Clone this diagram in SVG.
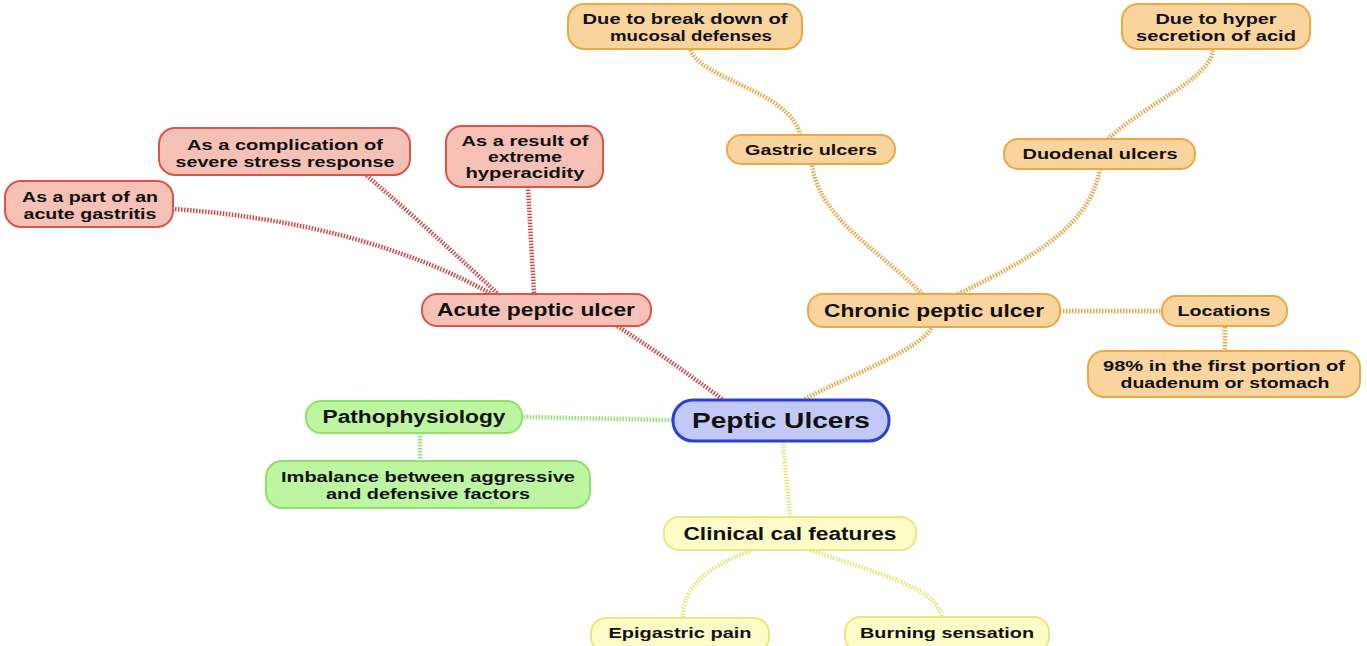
<svg xmlns="http://www.w3.org/2000/svg" width="1367" height="646" viewBox="0 0 1367 646">
<style>
text{font-family:"Liberation Sans",Arial,sans-serif;font-weight:bold;fill:#111;text-anchor:middle}
.s{font-size:15px}.m{font-size:17.5px}.l{font-size:22px}
.red rect{fill:#f5c1b7;stroke:#dc5448;stroke-width:2}
.org rect{fill:#f9d49c;stroke:#eaa946;stroke-width:2}
.grn rect{fill:#bdf5a0;stroke:#90e070;stroke-width:2}
.yel rect{fill:#fdfcc6;stroke:#e9e87e;stroke-width:2}
.blu rect{fill:#c3c9f6;stroke:#2b3fd6;stroke-width:3}
.c{fill:none;stroke-width:4.5;stroke-dasharray:1.5 1.5}
.cr{stroke:#d24a44}.co{stroke:#e8a84a}.cg{stroke:#95e374}.cy{stroke:#e6e67a}
</style>
<g id="connectors">
<path class="c cr" d="M722 399 Q670 360 617 326"/>
<path class="c co" d="M805 399 C850 375 920 350 932 327"/>
<path class="c cr" d="M490 293 Q360 222 173 209"/>
<path class="c cr" d="M497 293 Q430 230 366 175"/>
<path class="c cr" d="M534 293 L528 188"/>
<path class="c co" d="M922 294 C880 250 820 220 812 165"/>
<path class="c co" d="M958 294 C1050 250 1090 220 1100 169"/>
<path class="c co" d="M800 135 C790 90 700 80 690 49"/>
<path class="c co" d="M1108 139 C1150 100 1210 80 1213 49"/>
<path class="c co" d="M1060 311 L1162 311"/>
<path class="c co" d="M1225 327 L1225 351"/>
<path class="c cg" d="M672 420 L523 417"/>
<path class="c cg" d="M420 433 L420 461"/>
<path class="c cy" d="M783 441 L790 517"/>
<path class="c cy" d="M752 550 C700 570 683 590 683 618"/>
<path class="c cy" d="M810 550 C900 580 935 590 942 617"/>
</g>
<g id="n-peptic" class="blu"><rect x="673" y="400" width="216" height="41" rx="20"/><text class="l" x="781" y="428" textLength="178" lengthAdjust="spacingAndGlyphs">Peptic Ulcers</text></g>
<g id="n-acute" class="red"><rect x="422" y="294" width="229" height="32" rx="15"/><text class="m" x="536" y="316" textLength="198" lengthAdjust="spacingAndGlyphs">Acute peptic ulcer</text></g>
<g id="n-chronic" class="org"><rect x="808" y="294" width="252" height="33" rx="15"/><text class="m" x="934" y="317" textLength="220" lengthAdjust="spacingAndGlyphs">Chronic peptic ulcer</text></g>
<g id="n-locations" class="org"><rect x="1162" y="296" width="125" height="30" rx="14"/><text class="s" x="1224" y="316" textLength="93" lengthAdjust="spacingAndGlyphs">Locations</text></g>
<g id="n-98" class="org"><rect x="1088" y="351" width="272" height="46" rx="16"/><text class="s" x="1224" y="371" textLength="242" lengthAdjust="spacingAndGlyphs">98% in the first portion of</text><text class="s" x="1225" y="388" textLength="209" lengthAdjust="spacingAndGlyphs">duadenum or stomach</text></g>
<g id="n-gastric" class="org"><rect x="727" y="135" width="168" height="29" rx="14"/><text class="s" x="811" y="155" textLength="132" lengthAdjust="spacingAndGlyphs">Gastric ulcers</text></g>
<g id="n-duodenal" class="org"><rect x="1004" y="139" width="191" height="30" rx="14"/><text class="s" x="1100" y="159" textLength="155" lengthAdjust="spacingAndGlyphs">Duodenal ulcers</text></g>
<g id="n-breakdown" class="org"><rect x="568" y="4" width="234" height="45" rx="16"/><text class="s" x="685" y="24" textLength="205" lengthAdjust="spacingAndGlyphs">Due to break down of</text><text class="s" x="691" y="41" textLength="162" lengthAdjust="spacingAndGlyphs">mucosal defenses</text></g>
<g id="n-hyper" class="org"><rect x="1122" y="4" width="188" height="45" rx="16"/><text class="s" x="1216" y="24" textLength="121" lengthAdjust="spacingAndGlyphs">Due to hyper</text><text class="s" x="1216" y="41" textLength="160" lengthAdjust="spacingAndGlyphs">secretion of acid</text></g>
<g id="n-complication" class="red"><rect x="159" y="128" width="251" height="47" rx="16"/><text class="s" x="285" y="150" textLength="196" lengthAdjust="spacingAndGlyphs">As a complication of</text><text class="s" x="285" y="167" textLength="219" lengthAdjust="spacingAndGlyphs">severe stress response</text></g>
<g id="n-result" class="red"><rect x="446" y="126" width="157" height="61" rx="16"/><text class="s" x="525" y="146" textLength="127" lengthAdjust="spacingAndGlyphs">As a result of</text><text class="s" x="525" y="162" textLength="74" lengthAdjust="spacingAndGlyphs">extreme</text><text class="s" x="525" y="178" textLength="119" lengthAdjust="spacingAndGlyphs">hyperacidity</text></g>
<g id="n-part" class="red"><rect x="5" y="181" width="168" height="46" rx="16"/><text class="s" x="90" y="202" textLength="136" lengthAdjust="spacingAndGlyphs">As a part of an</text><text class="s" x="90" y="219" textLength="133" lengthAdjust="spacingAndGlyphs">acute gastritis</text></g>
<g id="n-patho" class="grn"><rect x="306" y="401" width="216" height="32" rx="15"/><text class="m" x="414" y="423" textLength="183" lengthAdjust="spacingAndGlyphs">Pathophysiology</text></g>
<g id="n-imbalance" class="grn"><rect x="266" y="461" width="324" height="47" rx="16"/><text class="s" x="428" y="482" textLength="294" lengthAdjust="spacingAndGlyphs">Imbalance between aggressive</text><text class="s" x="428" y="499" textLength="204" lengthAdjust="spacingAndGlyphs">and defensive factors</text></g>
<g id="n-clinical" class="yel"><rect x="664" y="517" width="252" height="33" rx="15"/><text class="m" x="790" y="540" textLength="213" lengthAdjust="spacingAndGlyphs">Clinical cal features</text></g>
<g id="n-epigastric" class="yel"><rect x="591" y="618" width="178" height="34" rx="15"/><text class="s" x="680" y="638" textLength="143" lengthAdjust="spacingAndGlyphs">Epigastric pain</text></g>
<g id="n-burning" class="yel"><rect x="845" y="617" width="204" height="35" rx="15"/><text class="s" x="947" y="638" textLength="174" lengthAdjust="spacingAndGlyphs">Burning sensation</text></g>
</svg>
